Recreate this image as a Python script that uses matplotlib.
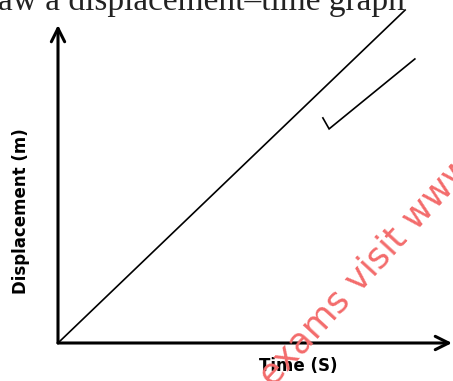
import matplotlib.pyplot as plt

# straight line through the origin (constant velocity)
time = [0, 10]
displacement = [0, 10]
# the small hand-drawn tick mark beside the line
tick_x = [7.63, 7.81, 10.28]
tick_y = [6.76, 6.43, 8.53]

W, H = 453, 381
fig = plt.figure(figsize=(W / 100, H / 100), dpi=100)
fig.patch.set_facecolor('white')

# axes box: origin at pixel (58, 343), x arrow to 452, y arrow to 25
ax = fig.add_axes([58 / W, 38 / H, 394 / W, 318 / H])
ax.set_xlim(0, 11.35)
ax.set_ylim(0, 9.55)
ax.axis('off')

ax.plot(time, displacement, color='black', lw=1.2, clip_on=False)
ax.plot(tick_x, tick_y, color='black', lw=1.2, clip_on=False,
        solid_joinstyle='miter')

# axes with open arrow heads
arrow = dict(arrowstyle='->', lw=2.2, color='black', mutation_scale=24,
             shrinkA=0, shrinkB=0)
ax.annotate('', xy=(1, 0), xytext=(0, 0), xycoords='axes fraction',
            arrowprops=arrow)
ax.annotate('', xy=(0, 1), xytext=(0, 0), xycoords='axes fraction',
            arrowprops=arrow)

fig.text(21 / W, 1 - 211 / H, 'Displacement (m)', rotation=90,
         ha='center', va='center', fontsize=12, fontweight='bold',
         family='DejaVu Sans')
fig.text(298 / W, 1 - 366 / H, 'Time (S)', ha='center', va='center',
         fontsize=12, fontweight='bold', family='DejaVu Sans')

# question text cut off at the top of the scan
fig.text(-2 / W, 1 - 10 / H, 'aw a displacement\u2013time graph',
         ha='left', va='baseline', fontsize=24, family='Liberation Serif',
         color='#222222')

# watermark
fig.text(273 / W, 1 - 388 / H, 'exams visit www', rotation=47.5,
         rotation_mode='anchor', ha='left', va='baseline', fontsize=25.5,
         color='#f36b6b', family='DejaVu Sans')

fig.savefig('out.png', dpi=100)
